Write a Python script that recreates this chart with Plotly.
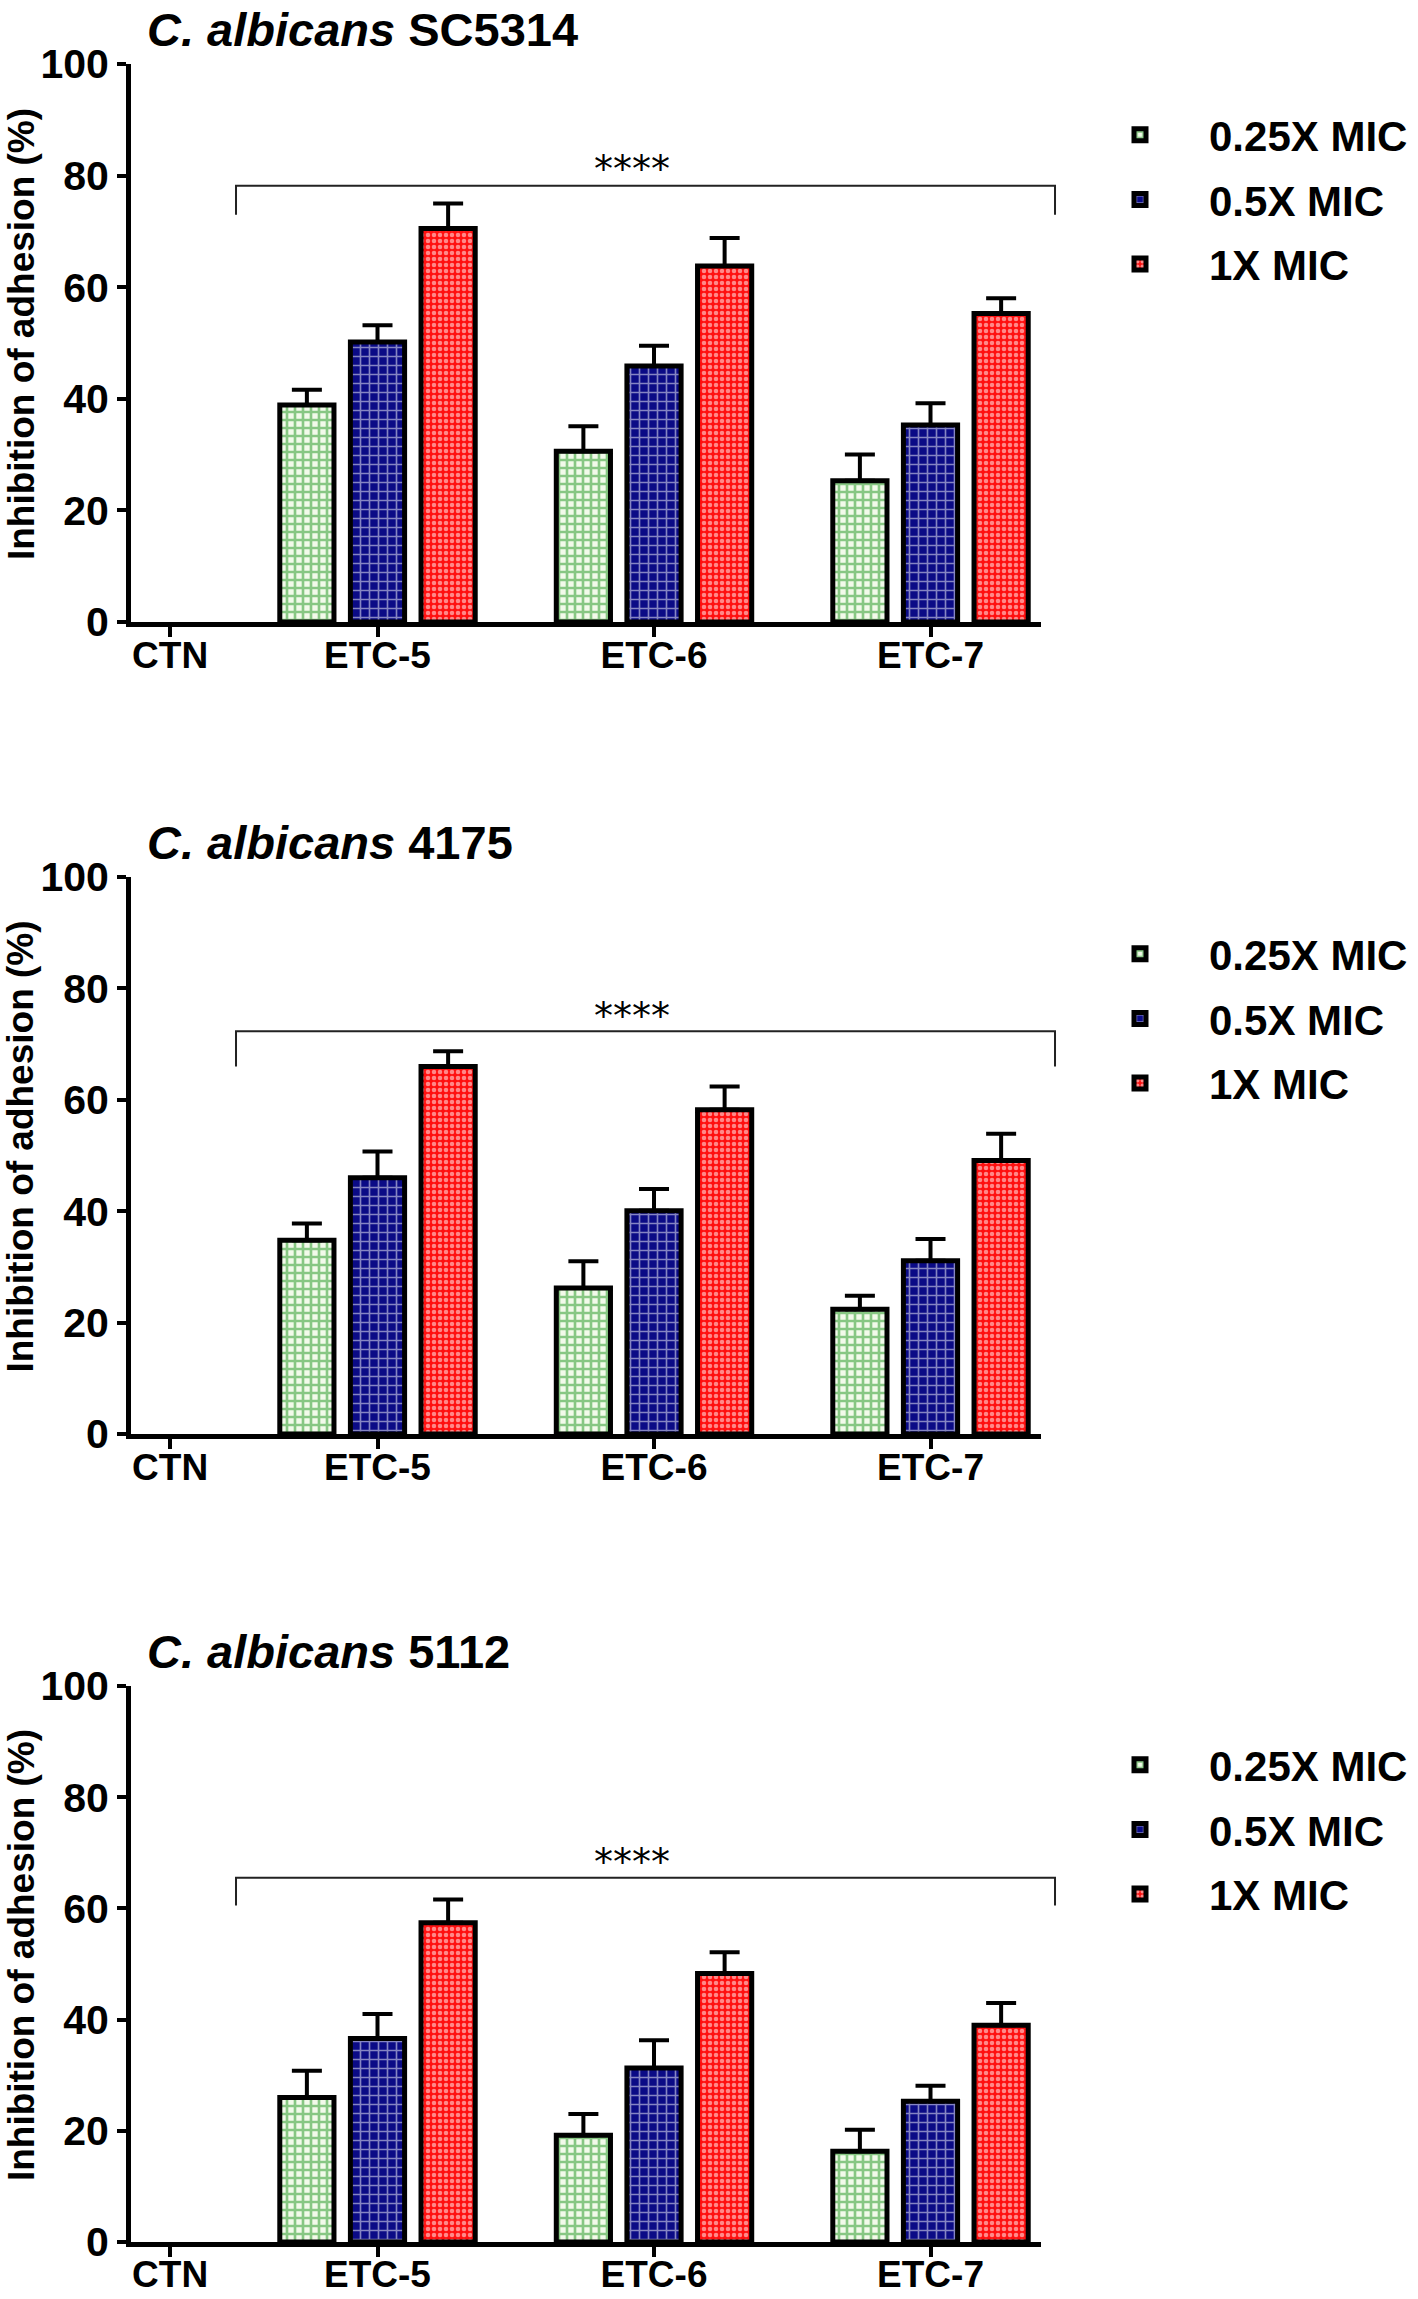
import plotly.graph_objects as go

# ---------------- data ----------------
groups = ["ETC-5", "ETC-6", "ETC-7"]
tick_labels = ["CTN", "ETC-5", "ETC-6", "ETC-7"]
levels = ["0.25X MIC", "0.5X MIC", "1X MIC"]
strains = ["SC5314", "4175", "5112"]

# C. albicans SC5314
sc5314_025 = [38.9, 30.6, 25.3]
sc5314_025_err = [2.7, 4.5, 4.7]
sc5314_05 = [50.2, 45.9, 35.3]
sc5314_05_err = [3.0, 3.6, 3.9]
sc5314_1 = [70.5, 63.8, 55.3]
sc5314_1_err = [4.5, 5.0, 2.7]

# C. albicans 4175
c4175_025 = [34.8, 26.2, 22.4]
c4175_025_err = [3.0, 4.8, 2.4]
c4175_05 = [46.0, 40.1, 31.1]
c4175_05_err = [4.7, 3.9, 3.9]
c4175_1 = [66.0, 58.2, 49.1]
c4175_1_err = [2.7, 4.2, 4.8]

# C. albicans 5112
c5112_025 = [26.0, 19.2, 16.3]
c5112_025_err = [4.8, 3.8, 3.9]
c5112_05 = [36.6, 31.3, 25.3]
c5112_05_err = [4.4, 5.0, 2.8]
c5112_1 = [57.4, 48.3, 39.0]
c5112_1_err = [4.2, 3.8, 4.0]

# significance brackets (top, leg bottom, star label level)
bracket_top = [78.2, 72.3, 65.5]
bracket_bottom = [73.0, 66.0, 60.5]
star_level = [81.2, 75.0, 68.3]
sig_label = "****"

y_ticks = [0, 20, 40, 60, 80, 100]

# ---------------- styling / layout ----------------
W, H = 1418, 2299
FONT = "Liberation Sans, Arial, sans-serif"
BAR_STEP = 0.2554
BAR_W = 0.196
X_RANGE = [0.1085, 3.3996]
CTN_POS = 0.25

patterns = [
    dict(shape="+", bgcolor="#f2faea", fgcolor="#1c941c", size=8, solidity=0.55),
    dict(shape="+", bgcolor="#0b0b86", fgcolor="#ffffff", size=9, solidity=0.33),
    dict(shape=".", bgcolor="#ff1010", fgcolor="#ffffff", size=6, solidity=0.45),
]
# panel domains (paper, bottom->top)
y_domains = [[1 - 622 / H, 1 - 64 / H], [1 - 1434 / H, 1 - 877 / H], [1 - 2242 / H, 1 - 1686 / H]]
x_domain = [131 / W, 1041 / W]
legend_tops = [1 - 101 / H, 1 - 920 / H, 1 - 1731 / H]
label_standoff = [-13, -13, -14]

panel_vals = [
    ([sc5314_025, sc5314_05, sc5314_1], [sc5314_025_err, sc5314_05_err, sc5314_1_err]),
    ([c4175_025, c4175_05, c4175_1], [c4175_025_err, c4175_05_err, c4175_1_err]),
    ([c5112_025, c5112_05, c5112_1], [c5112_025_err, c5112_05_err, c5112_1_err]),
]

xpos = list(range(1, len(groups) + 1))
tickvals = [CTN_POS] + xpos

fig = go.Figure()
layout = dict(
    width=W, height=H, autosize=False,
    margin=dict(l=0, r=0, t=0, b=0, autoexpand=False),
    paper_bgcolor="white", plot_bgcolor="white",
    font=dict(family=FONT, color="black"),
    barmode="overlay",
    showlegend=True,
)
annotations = []
shapes = []

for p, (vals, errs) in enumerate(panel_vals):
    sfx = "" if p == 0 else str(p + 1)
    xa, ya, leg = "x" + sfx, "y" + sfx, "legend" + sfx
    for k in range(3):
        fig.add_trace(go.Bar(
            x=xpos, y=vals[k], name=levels[k],
            xaxis=xa, yaxis=ya, legend=leg,
            legendgroup=f"p{p}_{k}",
            width=BAR_W, offset=(k - 1) * BAR_STEP - BAR_W / 2,
            marker=dict(color=patterns[k]["bgcolor"], pattern=patterns[k],
                        line=dict(color="black", width=5)),
            error_y=dict(type="data", array=errs[k], arrayminus=[0] * len(errs[k]),
                         symmetric=False, color="black", thickness=4, width=15),
            hoverinfo="x+y",
        ))
    layout["xaxis" + sfx] = dict(
        domain=x_domain, anchor=ya, range=X_RANGE, showgrid=False, zeroline=False,
        showline=True, linewidth=5, linecolor="black", automargin=False,
        tickmode="array", tickvals=tickvals, ticktext=tick_labels,
        ticks="outside", ticklen=10, tickwidth=4, tickcolor="black",
        ticklabelstandoff=label_standoff[p],
        tickfont=dict(family=FONT, size=37, weight="bold", color="black"),
    )
    layout["yaxis" + sfx] = dict(
        domain=y_domains[p], anchor=xa, range=[0, 100], showgrid=False, zeroline=False,
        showline=True, linewidth=5, linecolor="black", automargin=False,
        tickmode="array", tickvals=y_ticks,
        ticks="outside", ticklen=9, tickwidth=4, tickcolor="black",
        tickfont=dict(family=FONT, size=41, weight="bold", color="black"),
    )
    layout[leg] = dict(
        x=1071 / W, xanchor="left", y=legend_tops[p], yanchor="top",
        font=dict(family=FONT, size=42, weight="bold", color="black"),
        itemwidth=128, traceorder="grouped", tracegroupgap=7,
        bgcolor="rgba(0,0,0,0)",
    )
    # panel title
    annotations.append(dict(
        xref="paper", yref=ya + " domain", x=145 / W, y=1 + 35 / 558,
        xanchor="left", yanchor="middle", showarrow=False,
        text="<i>C. albicans</i> " + strains[p],
        font=dict(family=FONT, size=47, weight="bold", color="black"),
    ))
    # y-axis title
    annotations.append(dict(
        xref="paper", yref=ya + " domain", x=21 / W, y=0.516,
        xanchor="center", yanchor="middle", showarrow=False, textangle=-90,
        text="Inhibition of adhesion (%)",
        font=dict(family=FONT, size=37, weight="bold", color="black"),
    ))
    # significance bracket
    shapes.append(dict(
        type="path", xref=xa + " domain", yref=ya,
        path=f"M 0.1154 {bracket_bottom[p]} L 0.1154 {bracket_top[p]} L 1.0154 {bracket_top[p]} L 1.0154 {bracket_bottom[p]}",
        line=dict(color="#222222", width=2),
    ))
    annotations.append(dict(
        xref=xa, yref=ya, x=1.92, y=star_level[p],
        xanchor="center", yanchor="middle", showarrow=False,
        text=sig_label,
        font=dict(family="DejaVu Sans", size=38, color="black"),
    ))

layout["annotations"] = annotations
layout["shapes"] = shapes
fig.update_layout(**layout)
fig.write_html("out.html", config={"displayModeBar": False},
               post_script="document.body.style.margin='0px';")
